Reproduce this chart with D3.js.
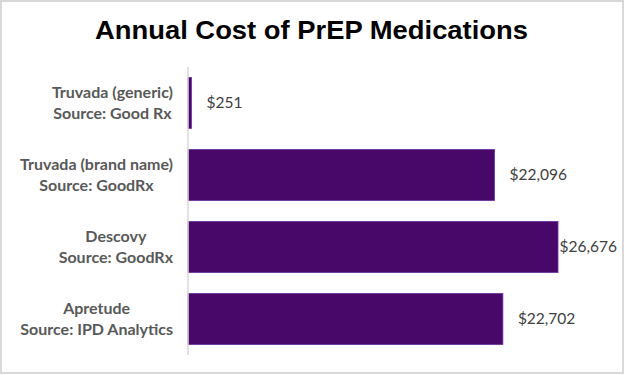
<!DOCTYPE html>
<html>
<head>
<meta charset="utf-8">
<script src="https://cdn.jsdelivr.net/npm/d3@7"></script>
<style>
  body { margin: 0; background: #fff; }
  .title { font-family: "Liberation Sans", Arial, sans-serif; font-weight: bold; }
  .cat { font-family: Lato, "Open Sans", sans-serif; font-weight: bold; fill: #595959; font-size: 16px; }
  .val { font-family: Lato, "Open Sans", sans-serif; fill: #404040; font-size: 15.5px; }
</style>
</head>
<body>
<svg id="chart"></svg>
<script>
// data
var drugs = ["Truvada (generic)", "Truvada (brand name)", "Descovy", "Apretude"];
var sources = ["Source: Good Rx", "Source: GoodRx", "Source: GoodRx", "Source: IPD Analytics"];
var costs = [251, 22096, 26676, 22702];

var W = 624, H = 375;
var margin = {top: 67, right: 7, bottom: 20, left: 188},
    width = W - margin.left - margin.right,
    height = H - margin.top - margin.bottom;

var svg = d3.select("#chart").attr("width", W).attr("height", H);

// outer frame
svg.append("rect")
  .attr("x", 1).attr("y", 1)
  .attr("width", W - 2).attr("height", H - 3)
  .attr("fill", "#fff")
  .attr("stroke", "#d9d9d9")
  .attr("stroke-width", 2);

svg.append("text")
  .attr("class", "title")
  .attr("x", 311.5)
  .attr("y", 38.5)
  .attr("text-anchor", "middle")
  .style("font-size", "25px")
  .attr("textLength", 433)
  .attr("lengthAdjust", "spacingAndGlyphs")
  .text("Annual Cost of PrEP Medications");

var g = svg.append("g")
  .attr("transform", "translate(" + margin.left + "," + margin.top + ")");

var x = d3.scaleLinear()
  .domain([0, 30000])
  .range([0, 370 * 30000 / 26676]);

var y = d3.scaleBand()
  .domain(d3.range(drugs.length))
  .range([0, height])
  .paddingInner(0.29)
  .paddingOuter(0.145);

// bars
g.selectAll("rect.bar")
  .data(costs)
  .enter()
  .append("rect")
    .attr("class", "bar")
    .attr("x", 0)
    .attr("y", (d, i) => y(i))
    .attr("width", d => Math.max(x(d), 3))
    .attr("height", y.bandwidth())
    .attr("fill", "#48086a")
    .attr("stroke", "#7030a0")
    .attr("stroke-width", 0.8);

// axis line
g.append("line")
  .attr("x1", 0).attr("x2", 0)
  .attr("y1", 0).attr("y2", height)
  .attr("stroke", "#d9d9d9")
  .attr("stroke-width", 1.5);

// value labels (pushed inside when they would run off the plot)
var fmt = d3.format("$,");
var plotRight = 617 - margin.left;
g.selectAll("text.val")
  .data(costs)
  .enter()
  .append("text")
    .attr("class", "val")
    .attr("y", (d, i) => y(i) + y.bandwidth() / 2)
    .attr("dy", "0.35em")
    .text(d => fmt(d))
    .attr("x", function(d) {
      var w = this.getComputedTextLength();
      return Math.min(Math.max(x(d), 3) + 15, plotRight - w);
    });

// category labels
var labels = g.selectAll("text.cat")
  .data(drugs)
  .enter()
  .append("text")
    .attr("class", "cat")
    .attr("text-anchor", "middle")
    .attr("y", (d, i) => y(i) + y.bandwidth() / 2);

labels.each(function(d, i) {
  var t = d3.select(this);
  var a = t.append("tspan").attr("dy", "-0.3em").text(d);
  var b = t.append("tspan").attr("dy", "1.3em").text(sources[i]);
  var wa = a.node().getComputedTextLength(), wb = b.node().getComputedTextLength();
  var cx = -15 - Math.max(wa, wb) / 2;
  a.attr("x", cx);
  b.attr("x", cx);
});
</script>
</body>
</html>
